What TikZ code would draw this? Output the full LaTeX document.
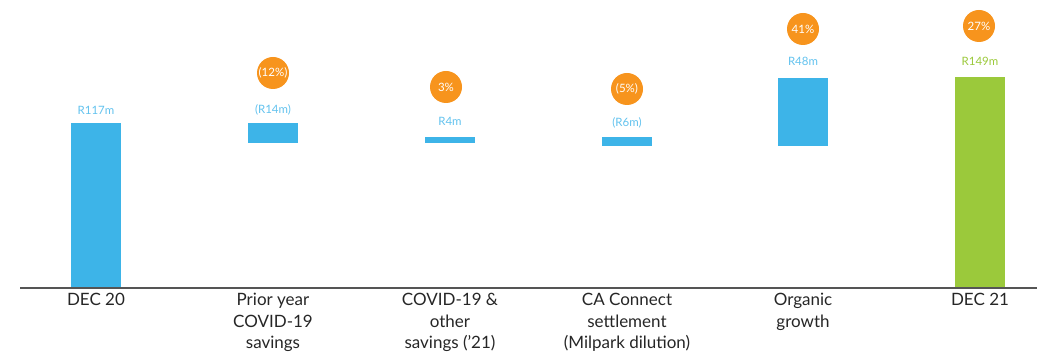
\documentclass[tikz,border=0pt]{standalone}
\usepackage{fontspec}
\setmainfont{Lato}
\definecolor{barblue}{HTML}{3DB4E8}
\definecolor{bargreen}{HTML}{9BC93B}
\definecolor{circorange}{HTML}{F7941D}
\definecolor{valblue}{HTML}{62C2EE}
\definecolor{axisgray}{HTML}{555555}
\begin{document}
\begin{tikzpicture}[x=1pt,y=-1pt,
  bar/.style={fill=barblue,draw=none,inner sep=0pt,minimum width=50pt},
  val/.style={text=valblue,font=\fontsize{11.5}{13}\selectfont,inner sep=0pt},
  pct/.style={circle,fill=circorange,draw=none,minimum size=32pt,inner sep=0pt,text=white,font=\fontsize{11.5}{13}\selectfont},
  cat/.style={anchor=north,align=center,inner sep=0pt,text=black!85,font=\fontsize{17}{21.5}\selectfont}]
\useasboundingbox (0,0) rectangle (1058,355);
% bars
\node[bar,minimum height=164pt] (b1) at (96,205) {};
\node[bar,minimum height=19.6pt] (b2) at (273,132.8) {};
\node[bar,minimum height=5.6pt] (b3) at (450,140) {};
\node[bar,minimum height=8.4pt] (b4) at (627,141.4) {};
\node[bar,minimum height=67.2pt] (b5) at (803,112) {};
\node[bar,fill=bargreen,minimum height=209.6pt] (b6) at (980,182.2) {};
% axis
\coordinate (axL) at (20,288);
\coordinate (axR) at (1037,288);
\draw[axisgray,line width=2pt] (axL) -- (axR);
% value labels
\node[val] (v1) at (96,110) {R117m};
\node[val] (v2) at (273,110) {(R14m)};
\node[val] (v3) at (450,121) {R4m};
\node[val] (v4) at (627,123) {(R6m)};
\node[val] (v5) at (803,61) {R48m};
\node[val,text=bargreen] (v6) at (980,61) {R149m};
% percentage circles
\node[pct] (p2) at (273,73) {(12\%)};
\node[pct] (p3) at (446,87) {3\%};
\node[pct] (p4) at (627,89) {(5\%)};
\node[pct] (p5) at (803,29) {41\%};
\node[pct] (p6) at (979,26) {27\%};
% category labels
\node[cat] (c1) at (96,293) {DEC 20};
\node[cat] (c2) at (273,293) {Prior year\\COVID-19\\savings};
\node[cat] (c3) at (450,293) {COVID-19 \&\\other\\savings (’21)};
\node[cat] (c4) at (627,293) {CA Connect\\settlement\\(Milpark dilution)};
\node[cat] (c5) at (803,293) {Organic\\growth};
\node[cat] (c6) at (980,293) {DEC 21};
\end{tikzpicture}
\end{document}
